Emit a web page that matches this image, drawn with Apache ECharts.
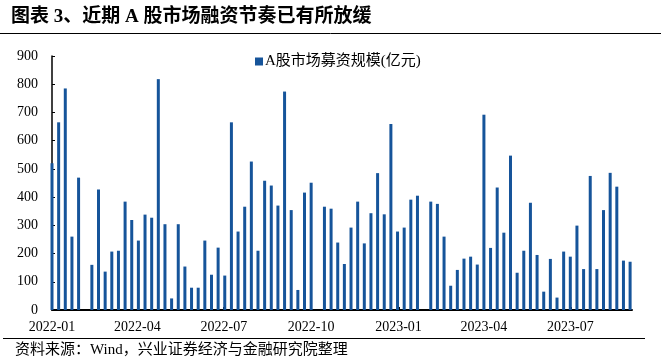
<!DOCTYPE html>
<html>
<head>
<meta charset="utf-8">
<script src="https://cdn.jsdelivr.net/npm/echarts@6/dist/echarts.min.js"></script>
<style>
html,body{margin:0;padding:0;background:#fff;}
#chart{width:661px;height:363px;}
</style>
</head>
<body>
<div id="chart"></div>
<script>
// ---- data ----
const titleText = '图表 3、近期 A 股市场融资节奏已有所放缓';
const seriesName = 'A股市场募资规模(亿元)';
const sourceText = '资料来源：Wind，兴业证券经济与金融研究院整理';
const firstWeek = '2022-01-01';          // first weekly observation
const weeklyFunds = [
  520, 665, 785, 260, 469, 0, 160, 427, 136, 207,
  210, 384, 319, 246, 338, 327, 818, 304, 41, 304,
  154, 79, 79, 246, 125, 221, 122, 665, 278, 366,
  526, 210, 458, 441, 370, 774, 354, 71, 416, 451,
  0, 366, 359, 239, 163, 292, 384, 236, 343, 485,
  339, 659, 278, 292, 391, 405, 0, 384, 376, 260,
  86, 142, 182, 189, 161, 692, 220, 434, 274, 547,
  132, 210, 380, 195, 65, 181, 44, 207, 189, 299,
  145, 475, 145, 354, 486, 437, 175, 171
];
const tickLabels = ['2022-01', '2022-04', '2022-07', '2022-10', '2023-01', '2023-04', '2023-07'];
const yTicks = [0, 100, 200, 300, 400, 500, 600, 700, 800, 900];

// ---- helpers ----
const DAY = 86400000;
const t0 = Date.parse(firstWeek + 'T00:00:00Z');
const dayOf = s => Math.round((Date.parse(s + (s.length === 7 ? '-01' : '') + 'T00:00:00Z') - t0) / DAY);
const barData = weeklyFunds.map((v, i) => [i * 7, v]);
const tickDays = tickLabels.map(dayOf);
const lastDay = (weeklyFunds.length - 1) * 7;

const serif = '"Liberation Serif", "Times New Roman", "Noto Sans CJK SC", serif';
const chart = echarts.init(document.getElementById('chart'), null, {renderer: 'canvas'});
chart.setOption({
  animation: false,
  backgroundColor: '#ffffff',
  title: {
    text: titleText,
    left: 6, top: 3,
    textStyle: {fontFamily: serif, fontSize: 19, fontWeight: 'bold', color: '#000'}
  },
  legend: {
    data: [seriesName],
    left: 250, top: 49,
    icon: 'rect', itemWidth: 8, itemHeight: 8, itemGap: 4,
    textStyle: {fontFamily: serif, fontSize: 15, color: '#000', padding: [0, 0, 0, -3]}
  },
  grid: {left: 52, right: 29, top: 56, bottom: 53},
  xAxis: {
    type: 'value',
    min: 0, max: lastDay + 2,
    splitLine: {show: false},
    axisLine: {show: true, lineStyle: {color: '#000', width: 2}},
    axisTick: {show: true, inside: true, length: 3, customValues: tickDays, lineStyle: {color: '#000', width: 2}},
    axisLabel: {
      customValues: tickDays,
      formatter: v => tickLabels[tickDays.indexOf(Math.round(v))] || '',
      fontFamily: serif, fontSize: 14, color: '#000', margin: 10
    }
  },
  yAxis: {
    type: 'value',
    min: yTicks[0], max: yTicks[yTicks.length - 1], interval: 100,
    splitLine: {show: false},
    axisLine: {show: true, lineStyle: {color: '#000', width: 1.5}},
    axisTick: {show: true, inside: true, length: 3, lineStyle: {color: '#000'}},
    axisLabel: {fontFamily: serif, fontSize: 14, color: '#000', margin: 14}
  },
  series: [{
    name: seriesName,
    type: 'bar',
    data: barData,
    barWidth: 3,
    itemStyle: {color: '#16549a'}
  }],
  graphic: [
    {type: 'line', shape: {x1: 0, y1: 33.5, x2: 661, y2: 33.5}, style: {stroke: '#000', lineWidth: 1}},
    {type: 'line', shape: {x1: 3, y1: 338.5, x2: 645, y2: 338.5}, style: {stroke: '#000', lineWidth: 1}},
    {type: 'text', left: 15, top: 343, style: {text: sourceText, font: '15px "Liberation Serif", "Noto Sans CJK SC", serif', fill: '#000'}}
  ]
});
</script>
</body>
</html>
